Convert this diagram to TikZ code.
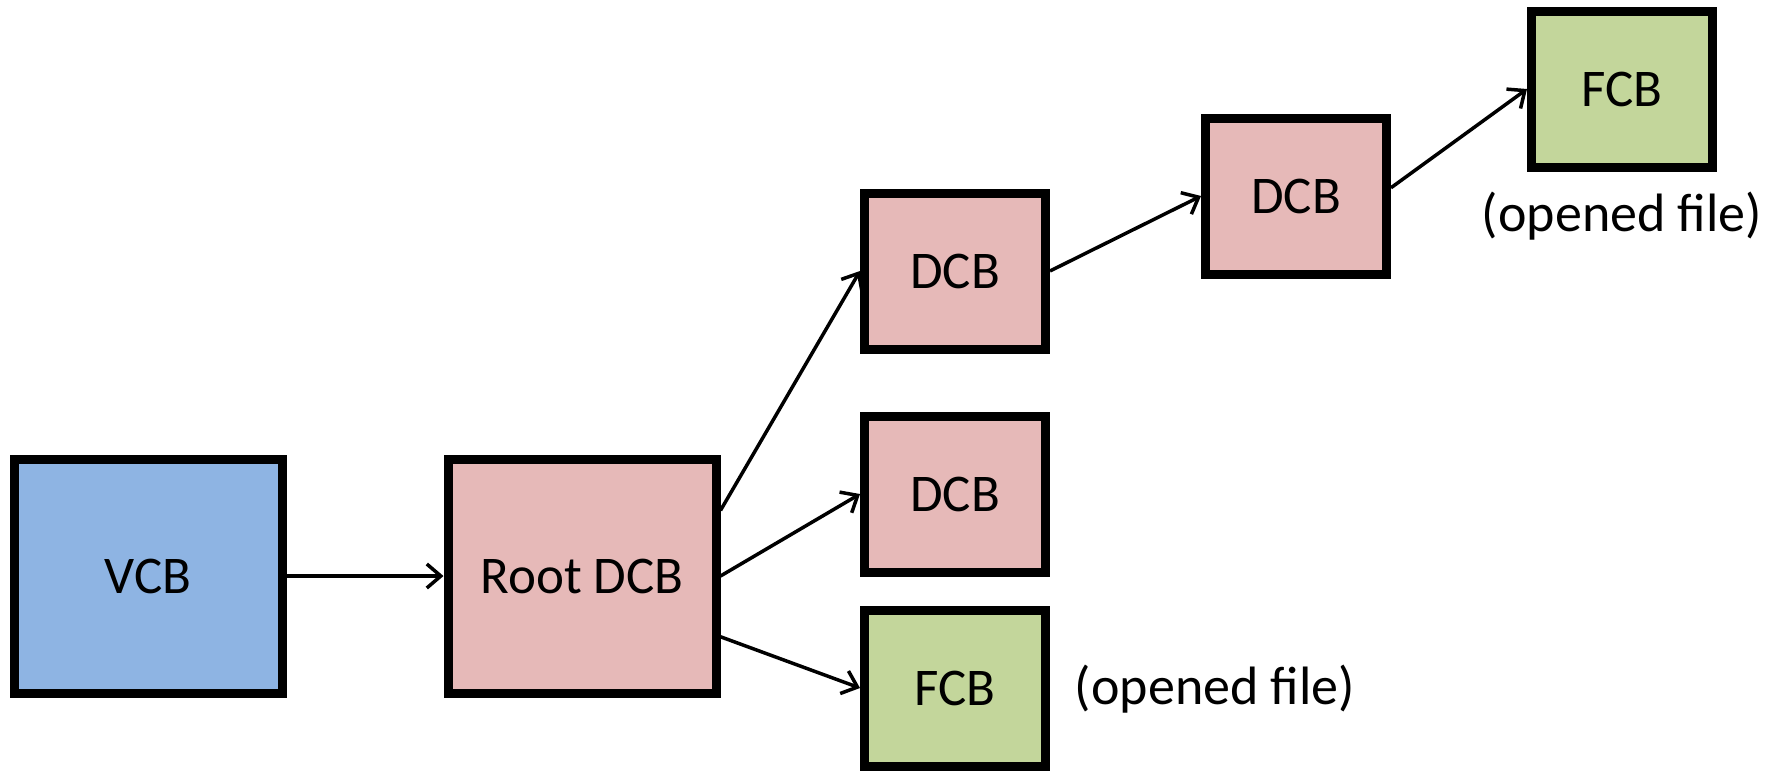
\documentclass[tikz,border=0pt]{standalone}
\usepackage{fontspec}
\setmainfont{Carlito}
\usetikzlibrary{arrows.meta,calc}
\definecolor{vcbblue}{HTML}{8EB4E3}
\definecolor{dcbpink}{HTML}{E6B9B8}
\definecolor{fcbgreen}{HTML}{C3D69B}
\tikzset{
  block/.style={draw=black, line width=9pt, inner sep=0pt, align=center,
    font=\fontsize{53}{60}\selectfont},
  bigblock/.style={block, minimum width=268pt, minimum height=234pt},
  smallblock/.style={block, minimum width=181pt, minimum height=156pt},
  link/.style={line width=3.5pt, -{Straight Barb[length=14pt, width=24pt, line width=3.5pt]}},
  note/.style={font=\fontsize{54}{60}\selectfont}
}
\begin{document}
\begin{tikzpicture}[x=1pt, y=-1pt]
  \useasboundingbox (0,0) rectangle (1785,772);

  % control blocks
  \node[bigblock, fill=vcbblue]  (vcb)  at (148,576) {VCB};
  \node[bigblock, fill=dcbpink]  (root) at (582,576) {Root DCB};
  \node[smallblock, fill=dcbpink]  (dcba) at (955,271) {DCB};
  \node[smallblock, fill=dcbpink]  (dcbb) at (955,494) {DCB};
  \node[smallblock, fill=fcbgreen] (fcba) at (955,688) {FCB};
  \node[smallblock, fill=dcbpink]  (dcbc) at (1296,196) {DCB};
  \node[smallblock, fill=fcbgreen] (fcbb) at (1622,89) {FCB};

  % annotations
  \node[note] (opena) at (1215,689) {(opened file)};
  \node[note] (openb) at (1622,216) {(opened file)};

  % links between blocks
  \draw[link] (vcb.east) -- (root.west);
  \draw[link] ($(root.north east)!0.23!(root.south east)$) -- (dcba.west);
  \draw[link] (root.east) -- (dcbb.west);
  \draw[link] ($(root.north east)!0.75!(root.south east)$) -- (fcba.west);
  \draw[link] (dcba.east) -- (dcbc.west);
  \draw[link] ($(dcbc.north east)!0.45!(dcbc.south east)$) -- (fcbb.west);
\end{tikzpicture}
\end{document}
